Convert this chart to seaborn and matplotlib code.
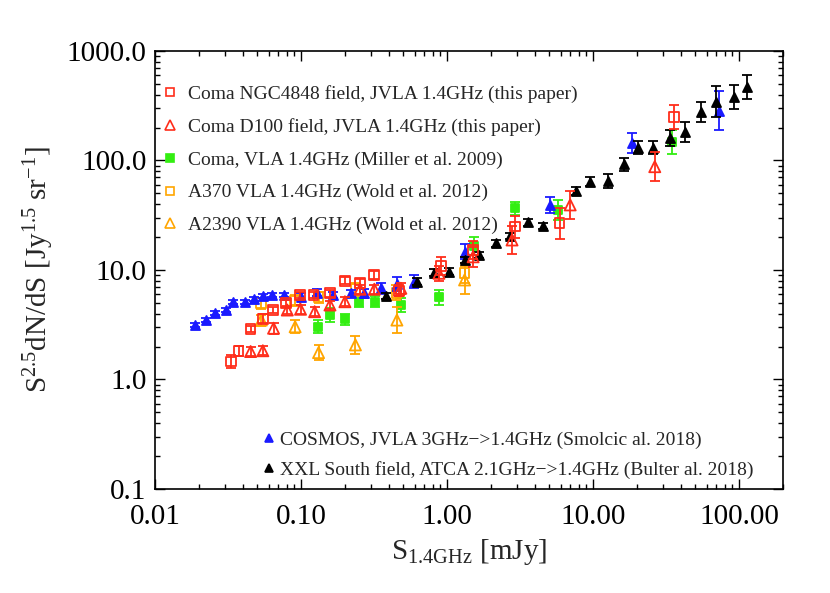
import numpy as np
import pandas as pd
import matplotlib
matplotlib.use('Agg')
import matplotlib.pyplot as plt
import seaborn as sns
from matplotlib.lines import Line2D
from matplotlib.ticker import FormatStrFormatter, NullFormatter

# Coma NGC4848 field, JVLA 1.4GHz (open red squares)
ngc_s = [0.0330, 0.0374, 0.0452, 0.0548, 0.0642, 0.0793, 0.0988, 0.122, 0.158,
         0.201, 0.254, 0.318, 0.470, 0.906, 1.50, 2.91, 5.90, 36.0]
ngc_n = [1.46, 1.82, 2.89, 3.59, 4.31, 4.97, 5.91, 5.91, 6.12,
         7.98, 7.56, 9.0, 6.47, 10.9, 15.2, 24.9, 26.7, 251.0]
ngc_err = [0.06, 0.05, 0.03, 0.04, 0.03, 0.03, 0.03, 0.03, 0.03,
           0.03, 0.04, 0.04, 0.05, 0.08, 0.08, 0.10, 0.14, 0.11]

# Coma D100 field, JVLA 1.4GHz (open red triangles)
d100_s = [0.0452, 0.0548, 0.0649, 0.0806, 0.0993, 0.124, 0.158, 0.200,
          0.254, 0.318, 0.483, 0.881, 1.51, 2.79, 6.98, 26.5]
d100_n = [1.80, 1.83, 2.94, 4.31, 4.38, 4.16, 4.79, 5.13,
          6.67, 6.67, 6.81, 9.33, 13.2, 18.8, 39.3, 87.8]
d100_err = [0.04, 0.04, 0.05, 0.04, 0.04, 0.04, 0.04, 0.04,
            0.04, 0.04, 0.05, 0.07, 0.09, 0.13, 0.13, 0.13]

# Coma, VLA 1.4GHz, Miller et al. 2009 (filled green squares)
miller_s = [0.130, 0.157, 0.201, 0.251, 0.323, 0.483, 0.881, 1.53, 2.91, 5.75, 34.9]
miller_n = [3.03, 3.88, 3.55, 5.13, 5.13, 4.79, 5.62, 16.6, 36.6, 35.3, 148.0]
miller_err = [0.06, 0.06, 0.05, 0.05, 0.05, 0.06, 0.07, 0.08, 0.06, 0.09, 0.11]

# A370, Wold et al. 2012 (open orange squares)
a370_s = [0.0530, 0.0912, 0.132, 0.236, 0.451, 1.32]
a370_n = [4.97, 5.25, 5.64, 6.67, 6.21, 9.33]
a370_err = [0.05, 0.05, 0.05, 0.06, 0.07, 0.09]

# A2390, Wold et al. 2012 (open orange triangles)
a2390_s = [0.0535, 0.0912, 0.132, 0.236, 0.454, 1.32]
a2390_n = [3.49, 3.03, 1.76, 2.07, 3.49, 8.11]
a2390_err = [0.05, 0.06, 0.07, 0.08, 0.12, 0.13]

# COSMOS, Smolcic et al. 2018 (filled blue triangles)
cosmos_s = [0.0188, 0.0223, 0.0257, 0.0309, 0.0342, 0.0411, 0.0476, 0.0549, 0.0632,
            0.0763, 0.100, 0.128, 0.165, 0.220, 0.271, 0.352, 0.454, 0.596, 1.32,
            5.09, 18.4, 73.5]
cosmos_n = [3.15, 3.49, 4.05, 4.31, 5.13, 5.07, 5.40, 5.79, 5.88,
            5.88, 5.7, 6.21, 5.91, 6.12, 6.12, 6.81, 7.45, 7.82, 14.7,
            39.3, 144.0, 285.0]
cosmos_err = [0.02, 0.02, 0.02, 0.02, 0.02, 0.02, 0.02, 0.02, 0.02,
              0.02, 0.03, 0.03, 0.03, 0.03, 0.04, 0.05, 0.06, 0.06, 0.07,
              0.07, 0.09, 0.18]

# XXL South field, Butler et al. 2018 (filled black triangles)
xxl_s = [0.382, 0.627, 0.815, 1.03, 1.33, 1.67, 2.18, 2.72, 3.59, 4.52, 7.66,
         9.55, 12.6, 16.2, 20.4, 25.6, 33.6, 42.6, 55.3, 70.0, 92.0, 113.6]
xxl_n = [5.79, 7.82, 9.46, 9.67, 12.3, 13.7, 17.5, 20.5, 27.3, 25.2, 52.6,
         64.0, 65.0, 92.3, 131.0, 131.0, 161.0, 183.0, 279.0, 344.0, 383.0, 472.0]
xxl_err = [0.03, 0.03, 0.03, 0.03, 0.03, 0.03, 0.03, 0.03, 0.03, 0.03, 0.04,
           0.04, 0.06, 0.06, 0.06, 0.06, 0.07, 0.09, 0.09, 0.14, 0.11, 0.11]

RED = '#ff2d1a'
GREEN = '#33ee11'
ORANGE = '#ffa500'
BLUE = '#1a1aff'
BLACK = '#000000'

sns.set_theme(style='ticks')
plt.rcParams['font.family'] = ['Liberation Serif', 'DejaVu Serif']
plt.rcParams['mathtext.fontset'] = 'custom'
plt.rcParams['mathtext.rm'] = 'Liberation Serif'
plt.rcParams['mathtext.it'] = 'Liberation Serif:italic'
plt.rcParams['mathtext.default'] = 'regular'

fig = plt.figure(figsize=(8.3, 5.93), dpi=100)
ax = fig.add_axes([0.1867, 0.1754, 0.7566, 0.7386])
ax.set_xscale('log')
ax.set_yscale('log')

# (s, n, err, colour, marker, filled, marker size)
series = [
    (miller_s, miller_n, miller_err, GREEN, 's', True, 6),
    (a370_s, a370_n, a370_err, ORANGE, 's', False, 7),
    (a2390_s, a2390_n, a2390_err, ORANGE, '^', False, 8),
    (cosmos_s, cosmos_n, cosmos_err, BLUE, '^', True, 6.5),
    (xxl_s, xxl_n, xxl_err, BLACK, '^', True, 6.5),
    (ngc_s, ngc_n, ngc_err, RED, 's', False, 7),
    (d100_s, d100_n, d100_err, RED, '^', False, 8),
]

for i, (s, n, e, col, mk, filled, ms) in enumerate(series):
    s = np.array(s)
    n = np.array(n)
    e = np.array(e)
    lo = n - n * 10 ** (-e)
    hi = n * 10 ** e - n
    ax.errorbar(s, n, yerr=[lo, hi], fmt='none', ecolor=col, elinewidth=1.3,
                capsize=3.5, capthick=1.3, zorder=2 + i)
    df = pd.DataFrame({'S': s, 'N': n})
    sns.scatterplot(data=df, x='S', y='N', ax=ax, marker=mk, s=ms ** 2,
                    facecolor=col if filled else 'none', edgecolor=col,
                    linewidth=1.3, legend=False, zorder=2.5 + i)

ax.set_xlim(0.01, 200)
ax.set_ylim(0.1, 1000)
ax.set_xticks([0.01, 0.1, 1, 10, 100])
ax.set_yticks([0.1, 1, 10, 100, 1000])
ax.xaxis.set_major_formatter(FormatStrFormatter('%.2f'))
ax.yaxis.set_major_formatter(FormatStrFormatter('%.1f'))
ax.xaxis.set_minor_formatter(NullFormatter())
ax.yaxis.set_minor_formatter(NullFormatter())
ax.tick_params(which='both', direction='in', top=True, right=True, colors='black')
ax.tick_params(which='major', length=7, width=1.0, labelsize=21)
ax.tick_params(axis='x', which='major', pad=11)
ax.tick_params(axis='y', which='major', pad=6)
ax.tick_params(which='minor', length=3.5, width=1.0)
for sp in ax.spines.values():
    sp.set_linewidth(1.2)
    sp.set_color('black')

ax.set_xlabel(r'S$_{1.4GHz}$ [mJy]', fontsize=21, labelpad=5)
ax.set_ylabel(r'S$^{2.5}$dN/dS [Jy$^{1.5}$ sr$^{-1}$]', fontsize=21, labelpad=8)


def handle(col, mk, filled, ms):
    return Line2D([], [], ls='none', marker=mk, ms=ms, mew=1.2, mec=col,
                  mfc=col if filled else 'none')


top_handles = [handle(RED, 's', False, 6), handle(RED, '^', False, 7),
               handle(GREEN, 's', True, 5.5), handle(ORANGE, 's', False, 6),
               handle(ORANGE, '^', False, 7)]
top_labels = ['Coma NGC4848 field, JVLA 1.4GHz (this paper)',
              'Coma D100 field, JVLA 1.4GHz (this paper)',
              'Coma, VLA 1.4GHz (Miller et al. 2009)',
              'A370 VLA 1.4GHz (Wold et al. 2012)',
              'A2390 VLA 1.4GHz (Wold et al. 2012)']
leg1 = ax.legend(top_handles, top_labels, loc='upper left', bbox_to_anchor=(0.012, 0.923),
                 frameon=False, fontsize=14, handlelength=0.8, handletextpad=0.5,
                 labelspacing=0.78, borderpad=0, borderaxespad=0)
ax.add_artist(leg1)

bot_handles = [handle(BLUE, '^', True, 6), handle(BLACK, '^', True, 6)]
bot_labels = ['COSMOS, JVLA 3GHz\u2212>1.4GHz (Smolcic al. 2018)',
              'XXL South field, ATCA 2.1GHz\u2212>1.4GHz (Bulter al. 2018)']
ax.legend(bot_handles, bot_labels, loc='lower left', bbox_to_anchor=(0.172, 0.022),
          frameon=False, fontsize=14, handlelength=0.6, handletextpad=0.3,
          labelspacing=0.62, borderpad=0, borderaxespad=0)

fig.savefig('out.png', dpi=100)
